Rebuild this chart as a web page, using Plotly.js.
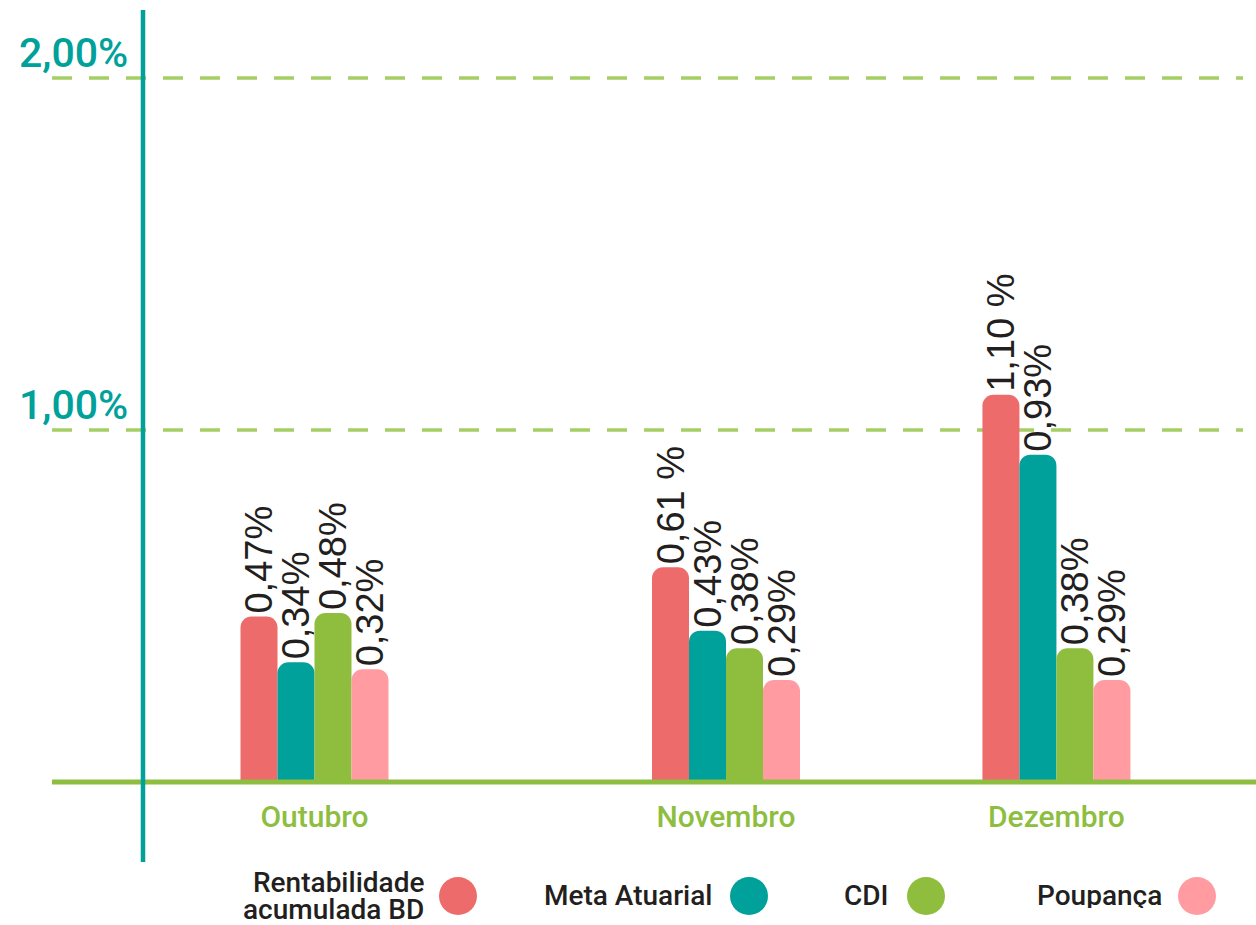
<!DOCTYPE html>
<html>
<head>
<meta charset="utf-8">
<script src="https://cdn.plot.ly/plotly-3.0.1.min.js"></script>
<style>html,body{margin:0;padding:0;background:#fff}#chart{width:1256px;height:925px}</style>
</head>
<body>
<div id="chart"></div>
<script>
// ---- data ----
const months = ["Outubro", "Novembro", "Dezembro"];
const seriesNames = ["Rentabilidade<br>acumulada BD", "Meta Atuarial", "CDI", "Poupança"];
const rentabilidadeBD = [0.47, 0.61, 1.10];
const metaAtuarial   = [0.34, 0.43, 0.93];
const cdi            = [0.48, 0.38, 0.38];
const poupanca       = [0.32, 0.29, 0.29];
const labelsBD    = ["0,47%", "0,61 %", "1,10 %"];
const labelsMeta  = ["0,34%", "0,43%", "0,93%"];
const labelsCDI   = ["0,48%", "0,38%", "0,38%"];
const labelsPoup  = ["0,32%", "0,29%", "0,29%"];
const yTickVals   = [1, 2];
const yTickLabels = ["1,00%", "2,00%"];

// ---- layout constants ----
const W = 1256, H = 925, plotBottom = 782;
const colors = ["#EE6B6B", "#00A19A", "#8FBE3E", "#FF9BA1"];
const xPos = [0, 1, 1.803];           // category centres (uneven spacing as in the reference)
const unitPx = 411.5;
const barW = 37 / unitPx;
const px2x = p => p / W;
const px2y = p => (plotBottom - p) / plotBottom;

const vals = [rentabilidadeBD, metaAtuarial, cdi, poupanca];
const labs = [labelsBD, labelsMeta, labelsCDI, labelsPoup];

const traces = vals.map((v, i) => ({
  type: "bar",
  x: xPos,
  y: v,
  text: labs[i],
  name: seriesNames[i],
  width: barW,
  offset: -2 * barW + i * barW,
  marker: {color: colors[i], cornerradius: 11, line: {width: 0}},
  textposition: "outside",
  textangle: -90,
  constraintext: "none",
  cliponaxis: false,
  textfont: {family: "Liberation Sans, Arial, sans-serif", size: 38, color: "#231F20"},
  hoverinfo: "skip",
  showlegend: false
}));

const shapes = [];
const annotations = [];

// dashed grid lines
yTickVals.forEach((v, i) => {
  shapes.push({type: "line", xref: "paper", yref: "y", x0: px2x(52), x1: px2x(1243), y0: v, y1: v,
    line: {color: "#A5CF66", width: 3.5, dash: "20px,17px"}, layer: "below"});
  annotations.push({xref: "paper", yref: "y", x: px2x(130), y: v, xanchor: "right", yanchor: "middle",
    yshift: 25, showarrow: false, text: yTickLabels[i],
    font: {family: "Roboto, sans-serif", size: 41, weight: 500, color: "#00A19A"}});
});
// baseline (value 0 = bottom of the plot area)
shapes.push({type: "line", xref: "paper", yref: "paper", x0: px2x(52), x1: 1, y0: 0, y1: 0,
  line: {color: "#8DBE3F", width: 5}, layer: "above"});
// vertical axis line
shapes.push({type: "line", xref: "paper", yref: "paper", x0: px2x(143), x1: px2x(143),
  y0: px2y(862), y1: px2y(10), line: {color: "#00A19A", width: 4.5}, layer: "above"});

// legend (text left of circle)
const legTextRight = [425, 713, 890, 1163];
const legCircleX = [458, 749, 926, 1197];
const legY = 896;
const lineGap = 27;
seriesNames.forEach((n, i) => {
  const lines = n.split("<br>");
  lines.forEach((ln, k) => {
    const y = legY - 1 + (k - (lines.length - 1) / 2) * lineGap;
    annotations.push({xref: "paper", yref: "paper", x: px2x(legTextRight[i]), y: px2y(y),
      xanchor: "right", yanchor: "middle", align: "right", showarrow: false, text: ln,
      height: 26, valign: "middle", borderpad: 0,
      font: {family: "Roboto, sans-serif", size: 28, weight: 500, color: "#231F20"}});
  });
  shapes.push({type: "circle", xref: "paper", yref: "paper", xsizemode: "pixel", ysizemode: "pixel",
    xanchor: px2x(legCircleX[i]), yanchor: px2y(legY), x0: -19, x1: 19, y0: -19, y1: 19,
    fillcolor: colors[i], line: {width: 0}});
});

const layout = {
  width: W, height: H,
  margin: {l: 0, r: 0, t: 0, b: H - plotBottom, pad: 0},
  paper_bgcolor: "#fff", plot_bgcolor: "rgba(0,0,0,0)",
  barmode: "overlay",
  showlegend: false,
  xaxis: {range: [-314.5 / unitPx, (W - 314.5) / unitPx], tickvals: xPos, ticktext: months,
    showgrid: false, zeroline: false, showline: false, ticks: "outside", ticklen: 8,
    tickcolor: "rgba(0,0,0,0)", automargin: false, fixedrange: true,
    tickfont: {family: "Roboto, sans-serif", size: 30, weight: 500, color: "#8DBE3F"}},
  yaxis: {range: [0, plotBottom / 352], visible: false, showgrid: false, zeroline: false, automargin: false},
  shapes: shapes,
  annotations: annotations
};

Plotly.newPlot("chart", traces, layout, {staticPlot: true, displayModeBar: false});
</script>
</body>
</html>
